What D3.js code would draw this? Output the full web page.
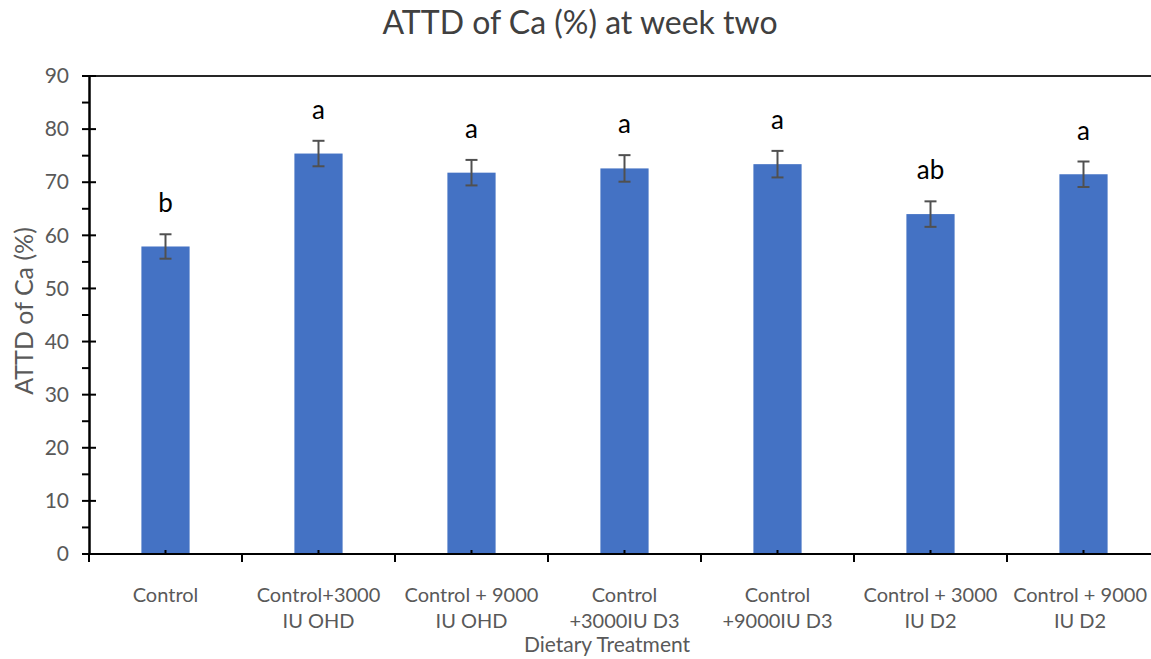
<!DOCTYPE html>
<html>
<head>
<meta charset="utf-8">
<script src="https://cdn.jsdelivr.net/npm/d3@7"></script>
<style>
  html, body { margin: 0; padding: 0; background: #fff; }
  svg { display: block; }
  text { font-family: Lato, "Open Sans", sans-serif; }
</style>
</head>
<body>
<svg id="chart" width="1151" height="659"></svg>
<script>
// ---- data ----
const categories = [
  ["Control"],
  ["Control+3000", "IU OHD"],
  ["Control + 9000", "IU OHD"],
  ["Control", "+3000IU D3"],
  ["Control", "+9000IU D3"],
  ["Control + 3000", "IU D2"],
  ["Control + 9000", "IU D2"]
];
const means = [57.9, 75.4, 71.8, 72.6, 73.4, 64.0, 71.5];
const errors = [2.3, 2.4, 2.4, 2.5, 2.5, 2.4, 2.4];
const letters = ["b", "a", "a", "a", "a", "ab", "a"];
const yTicks = [0, 10, 20, 30, 40, 50, 60, 70, 80, 90];
const yMinorTicks = [5, 15, 25, 35, 45, 55, 65, 75, 85];
const titleText = "ATTD of Ca (%) at week two";
const yTitle = "ATTD of Ca (%)";
const xTitle = "Dietary Treatment";

// ---- layout ----
const svg = d3.select("#chart");
const W = 1151;
const pL = 89, pR = 1160, pT = 76, pB = 554;
const ids = d3.range(categories.length);
const x = d3.scaleBand().domain(ids).range([pL, pR]).padding(0);
const y = d3.scaleLinear().domain([0, 90]).range([pB, pT]);
const barW = x.bandwidth() * 0.315;
const gray = "#595959";

// title
svg.append("text").attr("x", 580).attr("y", 34).attr("text-anchor", "middle")
  .attr("font-size", 32).attr("fill", "#404040").text(titleText);

// bars
svg.append("g").selectAll("rect").data(ids).join("rect")
  .attr("x", i => x(i) + x.bandwidth() / 2 - barW / 2)
  .attr("y", i => y(means[i]))
  .attr("width", barW)
  .attr("height", i => y(0) - y(means[i]))
  .attr("fill", "#4472C4");

// error bars
const eb = svg.append("g").attr("stroke", "#505050").attr("stroke-width", 2);
ids.forEach(i => {
  const cx = x(i) + x.bandwidth() / 2;
  const y1 = y(means[i] + errors[i]), y2 = y(means[i] - errors[i]);
  eb.append("line").attr("x1", cx).attr("x2", cx).attr("y1", y1).attr("y2", y2);
  eb.append("line").attr("x1", cx - 6).attr("x2", cx + 6).attr("y1", y1).attr("y2", y1);
  eb.append("line").attr("x1", cx - 6).attr("x2", cx + 6).attr("y1", y2).attr("y2", y2);
});

// significance letters
svg.append("g").selectAll("text").data(ids).join("text")
  .attr("x", i => x(i) + x.bandwidth() / 2)
  .attr("y", i => y(means[i] + errors[i]) - 31)
  .attr("dy", "0.35em")
  .attr("text-anchor", "middle")
  .attr("font-size", 26).attr("fill", "#000")
  .text(i => letters[i]);

// top border line
svg.append("line").attr("x1", pL).attr("x2", W).attr("y1", pT).attr("y2", pT)
  .attr("stroke", "#262626").attr("stroke-width", 2);

// y axis
const yAxis = d3.axisLeft(y).tickValues(yTicks).tickSize(0).tickPadding(20);
const gy = svg.append("g").attr("transform", `translate(${pL},0)`).call(yAxis);
gy.select(".domain").attr("stroke", "#000").attr("stroke-width", 2.5);
gy.selectAll("text").attr("font-size", 21).attr("fill", gray)
  .attr("font-family", "Lato, 'Open Sans', sans-serif");
svg.append("g").selectAll("line").data(yTicks).join("line")
  .attr("x1", pL - 7).attr("x2", pL + 7).attr("y1", d => y(d)).attr("y2", d => y(d))
  .attr("stroke", "#000").attr("stroke-width", 2);
svg.append("g").selectAll("line").data(yMinorTicks).join("line")
  .attr("x1", pL - 7).attr("x2", pL).attr("y1", d => y(d)).attr("y2", d => y(d))
  .attr("stroke", "#000").attr("stroke-width", 2);

// x axis
svg.append("line").attr("x1", pL).attr("x2", W).attr("y1", pB).attr("y2", pB)
  .attr("stroke", "#000").attr("stroke-width", 2);
// major ticks at band boundaries
svg.append("g").selectAll("line").data(d3.range(categories.length + 1)).join("line")
  .attr("x1", i => pL + i * x.bandwidth()).attr("x2", i => pL + i * x.bandwidth())
  .attr("y1", pB).attr("y2", pB + 8)
  .attr("stroke", "#000").attr("stroke-width", 2);
// minor ticks at category centres
svg.append("g").selectAll("line").data(ids).join("line")
  .attr("x1", i => x(i) + x.bandwidth() / 2).attr("x2", i => x(i) + x.bandwidth() / 2)
  .attr("y1", pB - 4).attr("y2", pB)
  .attr("stroke", "#000").attr("stroke-width", 2);

// category labels (kept inside the picture)
const lbl = svg.append("g").selectAll("text").data(ids).join("text")
  .attr("text-anchor", "middle").attr("font-size", 20).attr("fill", gray);
lbl.each(function(i) {
  const t = d3.select(this);
  const c0 = x(i) + x.bandwidth() / 2;
  categories[i].forEach((line, k) => {
    t.append("tspan").attr("x", c0).attr("y", 602 + k * 26).text(line);
  });
  const half = this.getBBox().width / 2;
  const cx = Math.min(c0, W - half - 4);
  t.selectAll("tspan").attr("x", cx);
});

// axis titles
svg.append("text").attr("x", 607).attr("y", 652).attr("text-anchor", "middle")
  .attr("font-size", 21).attr("fill", gray).text(xTitle);
svg.append("text").attr("transform", "translate(33,311) rotate(-90)")
  .attr("text-anchor", "middle").attr("font-size", 25).attr("fill", gray).text(yTitle);
</script>
</body>
</html>
